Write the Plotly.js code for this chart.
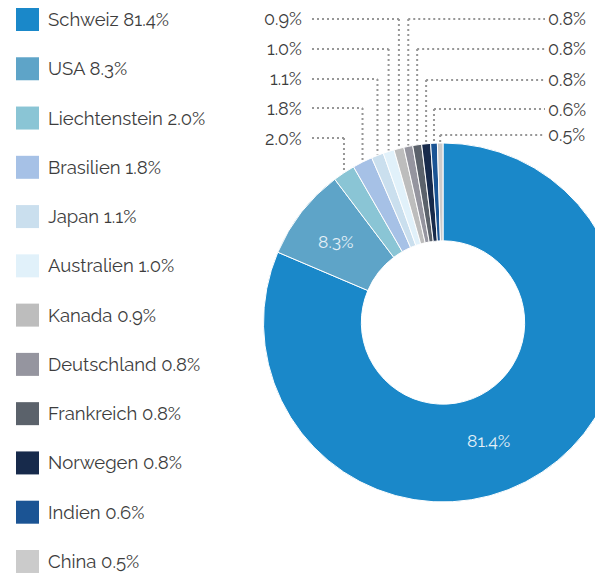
<!DOCTYPE html>
<html>
<head>
<meta charset="utf-8">
<script src="https://cdn.plot.ly/plotly-3.0.1.min.js"></script>
<style>
html,body{margin:0;padding:0;overflow:hidden;background:#fff;width:595px;height:574px;}
#chart{width:640px;height:574px;}
</style>
</head>
<body>
<div id="chart"></div>
<script>
const labels = ['Schweiz','USA','Liechtenstein','Brasilien','Japan','Australien','Kanada','Deutschland','Frankreich','Norwegen','Indien','China'];
const values = [81.4, 8.3, 2.0, 1.8, 1.1, 1.0, 0.9, 0.8, 0.8, 0.8, 0.6, 0.5];
const colors = ['#1a88c9','#5ea4c8','#8ac5d5','#a6c1e6','#cadfee','#e1f1fa','#bdbdbd','#95959f','#5b626b','#172a4b','#1b5494','#cbcbcb'];
const leftCallouts = ['Kanada','Australien','Japan','Brasilien','Liechtenstein'];
const rightCallouts = ['Deutschland','Frankreich','Norwegen','Indien','China'];

const W = 640, H = 574;
const cx = 443, cy = 322.5, R = 179.5, HOLE = 0.455;
const FONT = 'Raleway, "Open Sans", Lato, sans-serif';
const TXT = '#3d3d3d';
const px = x => x / W;
const py = y => 1 - y / H;
const fmt = v => v.toFixed(1) + '%';

const total = values.reduce((a, b) => a + b, 0);
const mids = {};
let cum = 0;
labels.forEach((l, i) => { mids[l] = (cum + values[i] / 2) / total; cum += values[i]; });

const shapes = [], annotations = [];

// legend
const legTop = 19.5, legStep = 49.27;
labels.forEach((l, i) => {
  const yc = legTop + legStep * i;
  shapes.push({type:'rect', xref:'paper', yref:'paper', x0:px(16), x1:px(39), y0:py(yc-11.5), y1:py(yc+11.5),
    fillcolor: colors[i], line:{width:0}});
  annotations.push({xref:'paper', yref:'paper', x:px(46), y:py(yc), xanchor:'left', yanchor:'middle',
    text: l + ' ' + fmt(values[i]), showarrow:false, font:{family:FONT, size:18.5, color:TXT}});
});

// callouts
const dotLine = {color:'#979797', width:2, dash:'2px,3px'};
function callout(name, rowY, side) {
  const i = labels.indexOf(name);
  const th = 2 * Math.PI * mids[name];
  const ex = cx + R * Math.sin(th), ey = cy - R * Math.cos(th);
  if (side === 'left') {
    shapes.push({type:'line', xref:'paper', yref:'paper', x0:px(312), y0:py(rowY), x1:px(ex), y1:py(rowY), line:dotLine});
    annotations.push({xref:'paper', yref:'paper', x:px(304), y:py(rowY), xanchor:'right', yanchor:'middle',
      text: fmt(values[i]), showarrow:false, font:{family:FONT, size:18, color:TXT}});
  } else {
    shapes.push({type:'line', xref:'paper', yref:'paper', x0:px(ex), y0:py(rowY), x1:px(545), y1:py(rowY), line:dotLine});
    annotations.push({xref:'paper', yref:'paper', x:px(545.5), y:py(rowY), xanchor:'left', yanchor:'middle',
      text: fmt(values[i]), showarrow:false, font:{family:FONT, size:18, color:TXT}});
  }
  shapes.push({type:'line', xref:'paper', yref:'paper', x0:px(ex), y0:py(rowY), x1:px(ex), y1:py(ey-1), line:dotLine});
}
const leftRows = [19, 49, 79, 108, 138];
const rightRows = [19, 49, 80, 109, 135];
leftCallouts.forEach((n, k) => callout(n, leftRows[k], 'left'));
rightCallouts.forEach((n, k) => callout(n, rightRows[k], 'right'));

// inside labels (text placement)
const insidePos = {Schweiz:[488, 441], USA:null};
['Schweiz','USA'].forEach(n => {
  const i = labels.indexOf(n);
  let p = insidePos[n];
  if (!p) {
    const th = 2 * Math.PI * mids[n], rr = R * (1 + HOLE) / 2;
    p = [cx + rr * Math.sin(th) - 4, cy - rr * Math.cos(th)];
  }
  annotations.push({xref:'paper', yref:'paper', x:px(p[0]), y:py(p[1]), xanchor:'center', yanchor:'middle',
    text: fmt(values[i]), showarrow:false, font:{family:FONT, size:17.5, color:'#e4f0f7'}});
});

const trace = {
  type:'pie', labels: labels, values: values, sort:false, direction:'clockwise', rotation:0,
  hole:HOLE,
  marker:{colors: colors, line:{color:'#ffffff', width:1}},
  textinfo:'none',
  domain:{x:[263.5/W, 622.5/W], y:[(H-502)/H, (H-143)/H]},
  hoverinfo:'none', showlegend:false
};

Plotly.newPlot('chart', [trace], {
  width: W, height: H, margin:{l:0, r:0, t:0, b:0},
  paper_bgcolor:'#ffffff', showlegend:false,
  shapes: shapes, annotations: annotations
}, {staticPlot:true, displayModeBar:false});
</script>
</body>
</html>
